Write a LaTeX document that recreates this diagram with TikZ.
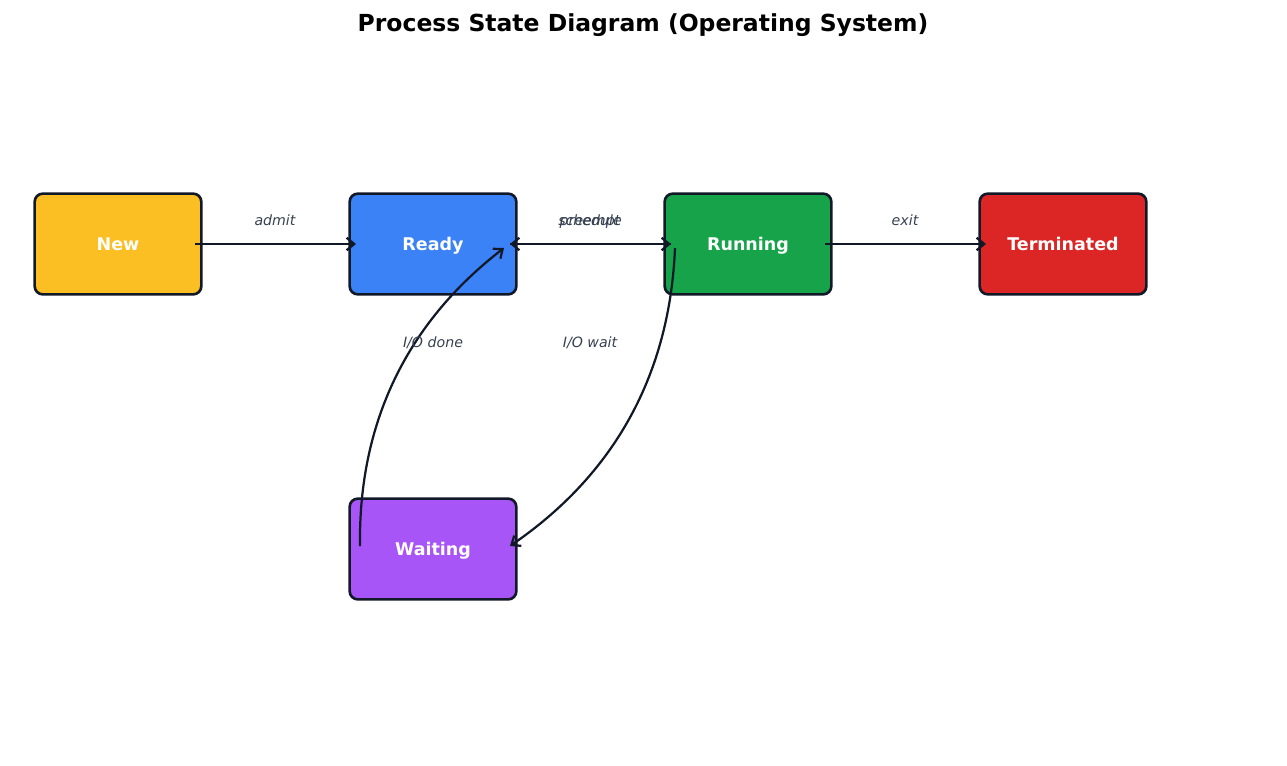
\documentclass[tikz,border=0pt]{standalone}
\usepackage{fontspec}
\setmainfont{DejaVu Sans}
\usetikzlibrary{arrows.meta}
\definecolor{cnew}{HTML}{FBBF24}
\definecolor{cready}{HTML}{3B82F6}
\definecolor{crun}{HTML}{16A34A}
\definecolor{cterm}{HTML}{DC2626}
\definecolor{cwait}{HTML}{A855F7}
\definecolor{cedge}{HTML}{111827}
\definecolor{clabel}{HTML}{374151}
\tikzset{
  state/.style={draw=cedge, line width=1.9pt, rounded corners=5.8pt,
    minimum width=120pt, minimum height=72.5pt, inner sep=0pt,
    text height=0.73em, text depth=0pt,
    text=white, font=\bfseries\fontsize{12.6}{15}\selectfont},
  lbl/.style={text=white, font=\bfseries\fontsize{12.6}{15}\selectfont, inner sep=0pt,
    text height=0.73em, text depth=0pt},
  trans/.style={draw=cedge, line width=1.6pt, -{Straight Barb[length=5.5pt,width=9pt,line width=1.6pt]}},
  elabel/.style={text=clabel, font=\itshape\fontsize{10.2}{12}\selectfont, inner sep=0pt,
    text height=0.73em, text depth=0pt},
}
\begin{document}
\begin{tikzpicture}[x=0.72pt,y=-0.72pt]
\useasboundingbox (0,0) rectangle (1287,766);
\node[font=\bfseries\fontsize{16.9}{20}\selectfont, text height=0.73em, text depth=0pt, inner sep=0pt] (title) at (643,26) {Process State Diagram (Operating System)};
\node[state, fill=cnew] (new) at (118,244) {};
\node[state, fill=cready] (ready) at (433,244) {};
\node[state, fill=crun] (run) at (748,244) {};
\node[state, fill=cterm] (term) at (1063,244) {};
\node[state, fill=cwait] (wait) at (433,549) {};
\node[lbl] (tnew) at (118,245.5) {New};
\node[lbl] (tready) at (433,245.5) {Ready};
\node[lbl] (trun) at (748,245.5) {Running};
\node[lbl] (tterm) at (1063,245.5) {Terminated};
\node[lbl] (twait) at (433,550.5) {Waiting};
\coordinate (newR) at ([shift={(77,0)}]new.center);
\coordinate (readyL) at ([shift={(-77,0)}]ready.center);
\coordinate (readyR) at ([shift={(77,0)}]ready.center);
\coordinate (runL) at ([shift={(-77,0)}]run.center);
\coordinate (runR) at ([shift={(77,0)}]run.center);
\coordinate (termL) at ([shift={(-77,0)}]term.center);
\coordinate (runIO) at ([shift={(-73,4)}]run.center);
\coordinate (waitIn) at ([shift={(77,-3)}]wait.center);
\coordinate (waitOut) at ([shift={(-73,-3)}]wait.center);
\coordinate (readyIn) at ([shift={(71,4)}]ready.center);
\draw[trans] (newR) -- (readyL);
\draw[trans] (readyR) -- (runL);
\draw[trans] (runL) -- (readyR);
\draw[trans] (runR) -- (termL);
\draw[trans] (runIO) to[bend left=26.6, looseness=0.95] (waitIn);
\draw[trans] (waitOut) to[bend left=26.6, looseness=0.95] (readyIn);
\node[elabel] (ladmit) at (275,220.5) {admit};
\node[elabel] (lsched) at (590,220.5) {schedule};
\node[elabel] (lpre) at (590,220.5) {preempt};
\node[elabel] (lexit) at (905,220.5) {exit};
\node[elabel] (ldone) at (433,342.5) {I/O done};
\node[elabel] (lwait) at (590,342.5) {I/O wait};
\end{tikzpicture}
\end{document}
